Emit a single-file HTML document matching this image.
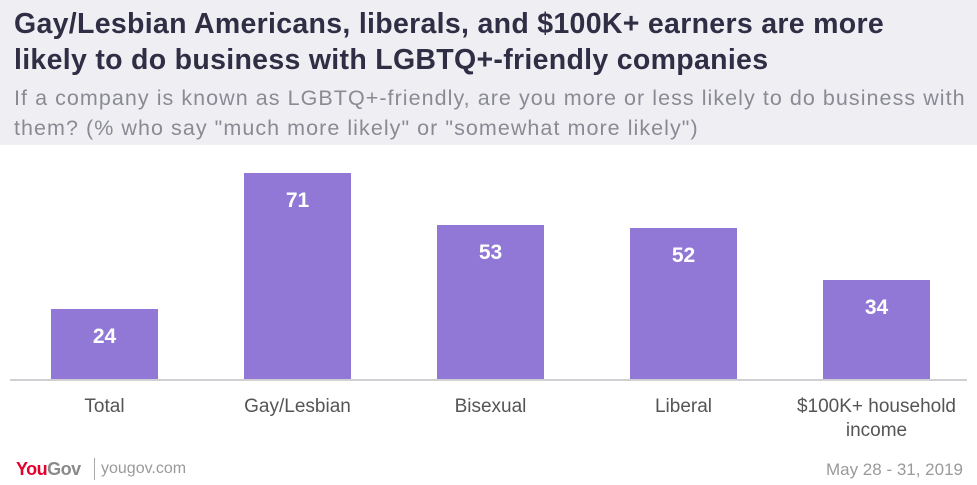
<!DOCTYPE html>
<html><head><meta charset="utf-8"><style>
body{margin:0;width:977px;height:485px;background:#fff;font-family:"Liberation Sans",sans-serif;position:relative;overflow:hidden}
.hdr{position:absolute;left:0;top:0;width:977px;height:145px;background:#efeff3}
.t{position:absolute;left:14px;top:6px;font-size:28.5px;font-weight:bold;color:#2f2e45;line-height:36px;letter-spacing:0.3px;white-space:nowrap}
.s{position:absolute;left:14px;top:83px;font-size:21.5px;color:#8a8a94;line-height:30px;white-space:nowrap;letter-spacing:1.05px}
.lab{position:absolute;font-size:19px;color:#555;text-align:center;width:200px;line-height:24px}
.val{position:absolute;font-size:21px;font-weight:bold;color:#fff;text-align:center;width:107px}
.bar{position:absolute;background:#9178d6}
</style></head><body>
<div class="hdr"></div>
<div class="t">Gay/Lesbian Americans, liberals, and $100K+ earners are more<br>likely to do business with LGBTQ+-friendly companies</div>
<div class="s">If a company is known as LGBTQ+-friendly, are you more or less likely to do business with<br>them? (% who say "much more likely" or "somewhat more likely")</div>
<div id="chart"></div>
<div style="position:absolute;left:10px;top:379px;width:957px;height:2px;background:#d0d0d4"></div>
<div style="position:absolute;left:16px;top:459px;font-size:18px;font-weight:bold;letter-spacing:-0.5px"><span style="color:#e4002b">You</span><span style="color:#8a8a8a">Gov</span></div>
<div style="position:absolute;left:94px;top:458px;width:1px;height:22px;background:#aaa"></div>
<div style="position:absolute;left:101px;top:460px;font-size:16px;color:#9a9a9a">yougov.com</div>
<div style="position:absolute;right:14px;top:460px;font-size:17px;color:#9a9a9a">May 28 - 31, 2019</div>
<script>
const categories=["Total","Gay/Lesbian","Bisexual","Liberal","$100K+ household income"];
const values=[24,71,53,52,34];
const base=379, scale=2.9, x0=51, step=193, bw=107;
const c=document.getElementById('chart');
categories.forEach((cat,i)=>{
  const h=values[i]*scale, x=x0+i*step;
  const b=document.createElement('div');b.className='bar';
  
  
  b.style.left=x+'px';b.style.top=(base-h)+'px';b.style.width=bw+'px';b.style.height=h+'px';
  c.appendChild(b);
  const v=document.createElement('div');v.className='val';
  
  
  v.style.left=x+'px';v.style.top=(base-h+16)+'px';v.textContent=values[i];
  c.appendChild(v);
  const l=document.createElement('div');l.className='lab';
  
  
  l.style.left=(x+bw/2-100)+'px';l.style.top='395px';l.textContent=cat;
  c.appendChild(l);
});
</script>
</body></html>
